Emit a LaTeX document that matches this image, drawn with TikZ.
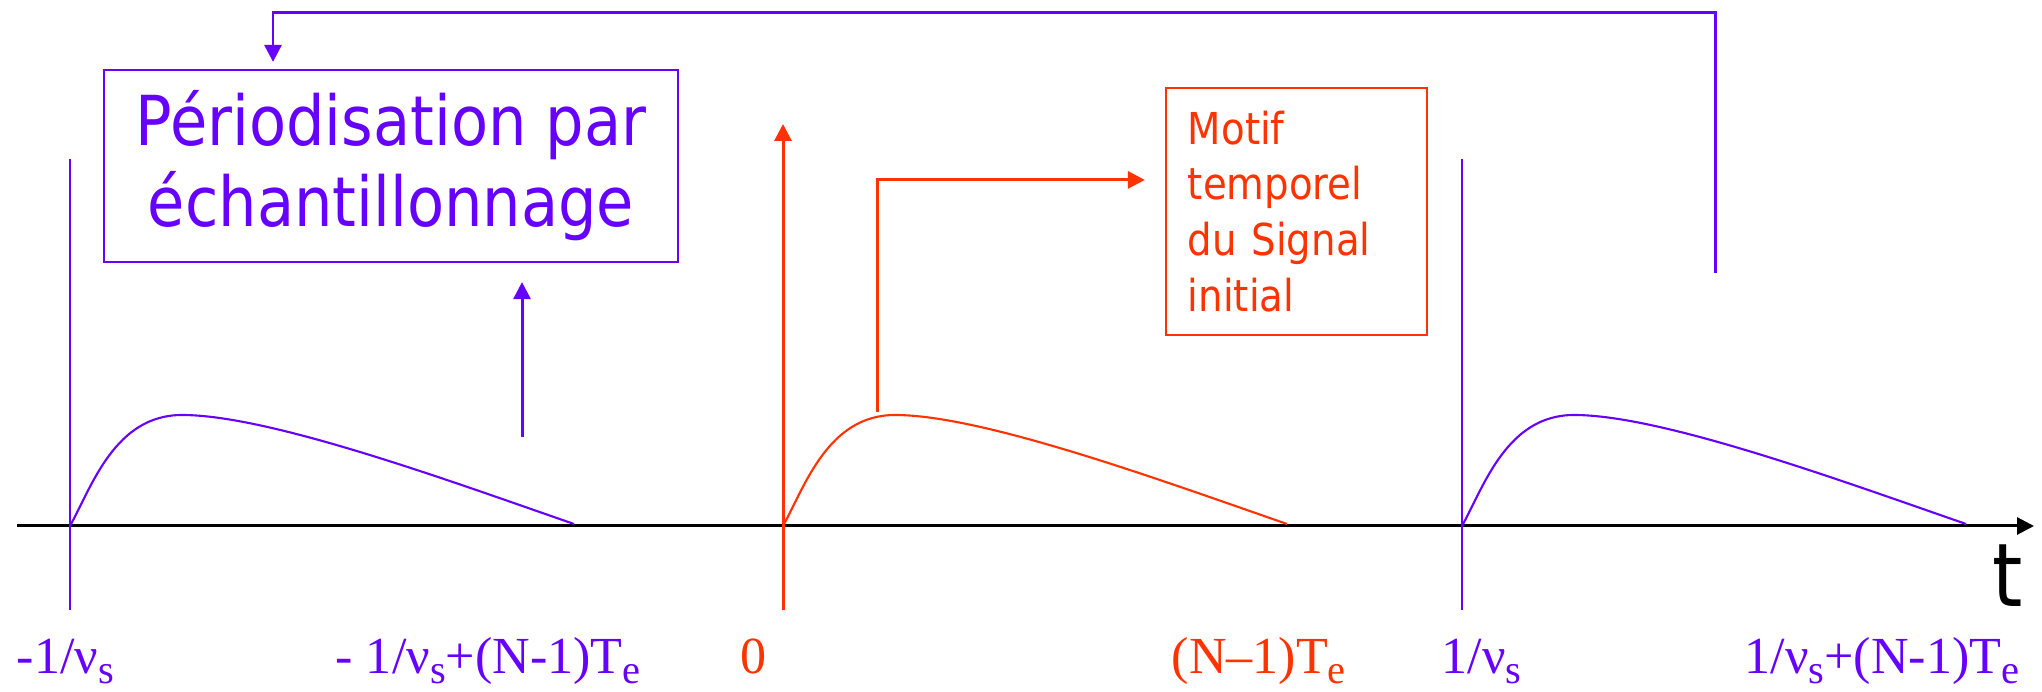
\documentclass[tikz,border=0pt]{standalone}
\usepackage{fontspec}
\setmainfont{Liberation Serif}
\newfontfamily\tahoma{DejaVu Sans}[FakeStretch=0.88]
\usetikzlibrary{arrows.meta}
\definecolor{pptviolet}{HTML}{6600FF}
\definecolor{pptred}{HTML}{FF3300}
\newcommand{\lowidx}[1]{\raisebox{-0.18em}{\fontsize{11.5pt}{11.5pt}\selectfont #1}}
\tikzset{
  conn/.style     = {line width=0.85pt, -{Triangle[length=1.7mm, width=1.7mm]}},
  tick/.style     = {line width=0.6pt},
  pulse/.style    = {line width=0.6pt},
  perbox/.style   = {draw=pptviolet, line width=0.6pt, text=pptviolet, minimum width=5.74cm,
                     minimum height=1.92cm, align=center, font=\tahoma\fontsize{19.6pt}{23pt}\selectfont},
  motifbox/.style = {draw=pptred, line width=0.6pt, text=pptred, text width=2.17cm, inner xsep=2.2mm,
                     minimum height=2.47cm, align=left, font=\tahoma\fontsize{12.5pt}{15.9pt}\selectfont},
  lbl/.style      = {anchor=base west, inner sep=0pt, font=\fontsize{14.8pt}{16pt}\selectfont},
}

\begin{document}
\begin{tikzpicture}[x=0.01cm, y=-0.01cm]
  \useasboundingbox (0,0) rectangle (2042,692);
  % time axis
  \coordinate (t0) at (17,526);
  \coordinate (t1) at (2034,526);
  \draw[conn, black] (t0) -- (t1);
  \node[lbl, font=\tahoma\fontsize{25pt}{25pt}\selectfont] (tlab) at (1992,607) {t};
  % sampling instants
  \draw[tick, pptviolet] (70,159) -- (70,610);
  \draw[tick, pptviolet] (1462,159) -- (1462,610);
  \draw[conn, pptred] (783,610) -- (783,124);
  % pulses
  \foreach \x/\col in {70/pptviolet, 783/pptred, 1462/pptviolet}
    \draw[pulse, color=\col, shift={(\x,526)}] (0,0) .. controls (22,-40) and (45,-111) .. (112,-111)
      .. controls (200,-111) and (380,-45) .. (504,-2);
  % boxes
  \node[perbox] (period) at (391,166) {Périodisation par\\échantillonnage};
  \node[motifbox] (motif) at (1296.5,211.5) {Motif\\temporel\\du Signal\\initial};
  % connectors
  \coordinate (perfoot) at (522,437);
  \draw[conn, pptviolet, shorten >=1.9mm] (perfoot) -- (perfoot |- period.south);
  \coordinate (perlink) at (1715,273);
  \coordinate (perhook) at (273,13);
  \draw[conn, pptviolet, shorten >=0.7mm] (perlink) |- (perhook) -- (perhook |- period.north);
  \coordinate (motifroot) at (877,412);
  \draw[conn, pptred, shorten >=2mm] (motifroot) |- ([yshift=-9.3mm]motif.north west);
  % instants labels
  \node[lbl, text=pptviolet] (lm1)  at (16,674)   {-1/ν\lowidx{s}};
  \node[lbl, text=pptviolet] (lm1e) at (335,674)  {- 1/ν\lowidx{s}+(N-1)T\lowidx{e}};
  \node[lbl, text=pptred]    (l0)   at (740,674)  {0};
  \node[lbl, text=pptred]    (l0e)  at (1171,674) {(N–1)T\lowidx{e}};
  \node[lbl, text=pptviolet] (l1)   at (1441,674) {1/ν\lowidx{s}};
  \node[lbl, text=pptviolet] (l1e)  at (1744,674) {1/ν\lowidx{s}+(N-1)T\lowidx{e}};
\end{tikzpicture}
\end{document}
